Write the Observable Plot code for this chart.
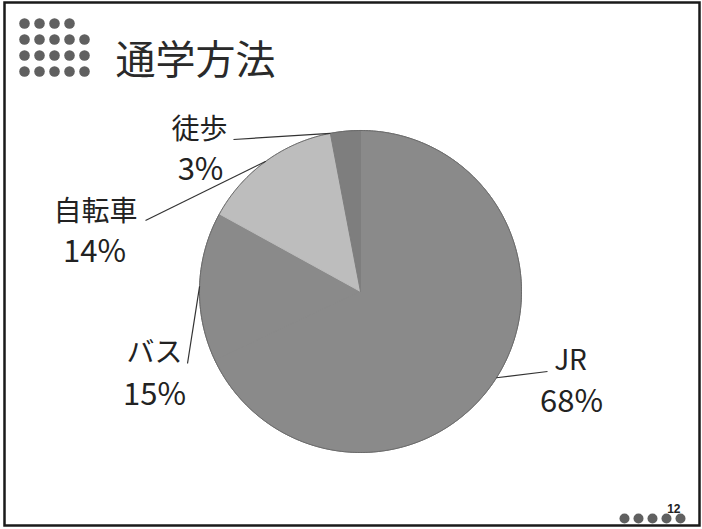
<!DOCTYPE html>
<html><head><meta charset="utf-8">
<script src="https://cdn.jsdelivr.net/npm/d3@7"></script>
<script src="https://cdn.jsdelivr.net/npm/@observablehq/plot@0.6"></script>
<style>
html,body{margin:0;padding:0;background:#fff;}
g[aria-label="pct"] text{letter-spacing:5px;}
g[aria-label="name"] text{letter-spacing:1px;}
g[aria-label="title"] text{letter-spacing:2px;}
</style></head><body><div id="chart"></div>
<script>
// ---- data ----
const categories = ["JR", "バス", "自転車", "徒歩"];
const shares = [68, 15, 14, 3];
const titleText = "通学方法";
const pageNumber = "12";

// ---- layout / style ----
const W = 702, H = 529, CX = 360, CY = 291, R = 161;
const FONT = "'Noto Sans CJK JP', 'Noto Sans', sans-serif";
const fills = {"JR": "#8a8a8a", "バス": "#8a8a8a", "自転車": "#bdbdbd", "徒歩": "#7e7e7e"};
// label layout in pixels: name centre, percent centre, leader end, attach fraction along slice
const labelLayout = {
  "JR":    {nx: 570, ny: 361, px: 569, py: 402, lx: 547, ly: 371, attach: 0.5},
  "バス":  {nx: 154, ny: 353, px: 152, py: 395, lx: 187, ly: 363, attach: 0.5},
  "自転車": {nx: 95,  ny: 212, px: 92,  py: 252, lx: 145, ly: 220, attach: 0.5},
  "徒歩":  {nx: 199, ny: 130, px: 198, py: 170, lx: 233, ly: 139, attach: 0.0}
};
const ux = p => (p - CX) / R;
const uy = p => (p - CY) / R;

const data = categories.map((c, i) => ({name: c, value: shares[i]}));
const arcs = d3.pie().sort(null).value(d => d.value)(data);

const slicePts = [];
for (const a of arcs) {
  const name = a.data.name;
  slicePts.push({name, x: 0, y: 0});
  const n = Math.max(2, Math.ceil((a.endAngle - a.startAngle) / 0.01));
  for (let k = 0; k <= n; k++) {
    const t = a.startAngle + (a.endAngle - a.startAngle) * k / n;
    slicePts.push({name, x: Math.sin(t), y: -Math.cos(t)});
  }
  slicePts.push({name, x: 0, y: 0});
}
const ringPts = d3.range(0, 2 * Math.PI + 0.005, 0.01).map(t => ({x: Math.sin(t), y: -Math.cos(t)}));

const leaders = arcs.map(a => {
  const L = labelLayout[a.data.name];
  const t = a.startAngle + (a.endAngle - a.startAngle) * L.attach;
  return {x1: Math.sin(t), y1: -Math.cos(t), x2: ux(L.lx), y2: uy(L.ly)};
});
const labels = arcs.map(a => {
  const L = labelLayout[a.data.name];
  return {name: a.data.name, pct: a.data.value + "%", nx: ux(L.nx), ny: uy(L.ny), px: ux(L.px), py: uy(L.py)};
});

// decorative dot grids
const titleDots = [];
for (let r = 0; r < 4; r++) for (let c = 0; c < 5; c++) {
  if (r === 0 && c === 4) continue;
  titleDots.push({x: ux(24 + c * 15), y: uy(23 + r * 16)});
}
const footDots = d3.range(5).map(i => ({x: ux(624 + i * 14), y: uy(518)}));

const chart = Plot.plot({
  width: W, height: H, margin: 0,
  style: {fontFamily: FONT, background: "#fff"},
  x: {type: "linear", domain: [ux(0), ux(W)], range: [0, W], axis: null},
  y: {type: "linear", domain: [uy(0), uy(H)], range: [0, H], axis: null},
  color: {type: "identity"},
  marks: [
    Plot.frame({stroke: "#1a1a1a", strokeWidth: 2.5, insetLeft: 4, insetTop: 2, insetRight: 3, insetBottom: 4}),
    Plot.dot(titleDots, {x: "x", y: "y", r: 5.3, fill: "#606060"}),
    Plot.text([titleText], {frameAnchor: "top-left", dx: 115, dy: 61, text: d => d, textAnchor: "start", lineAnchor: "middle", fontSize: 40, fill: "#2a2a2a", fontWeight: 400, ariaLabel: "title"}),
    Plot.line(ringPts, {x: "x", y: "y", fill: fills["JR"], stroke: "none"}),
    Plot.line(slicePts, {x: "x", y: "y", z: "name", fill: d => fills[d.name], stroke: d => fills[d.name], strokeWidth: 1, curve: "linear"}),
    Plot.line(ringPts, {x: "x", y: "y", stroke: "#6a6a6a", strokeWidth: 1}),
    Plot.link(leaders, {x1: "x1", y1: "y1", x2: "x2", y2: "y2", stroke: "#333", strokeWidth: 1.2}),
    Plot.text(labels, {x: "nx", y: "ny", text: "name", fontSize: 28, fill: "#222", textAnchor: "middle", lineAnchor: "middle", ariaLabel: "name"}),
    Plot.text(labels, {x: "px", y: "py", text: "pct", fontSize: 31, fill: "#222", textAnchor: "middle", lineAnchor: "middle", ariaLabel: "pct", dx: 2}),
    Plot.text([pageNumber], {frameAnchor: "bottom-right", dx: -22, dy: -17, text: d => d, fontSize: 12, fontWeight: "bold", fill: "#222", fontFamily: "'Liberation Sans', Arial, sans-serif"}),
    Plot.dot(footDots, {x: "x", y: "y", r: 5, fill: "#606060"})
  ]
});
document.getElementById("chart").appendChild(chart);
</script></body></html>
